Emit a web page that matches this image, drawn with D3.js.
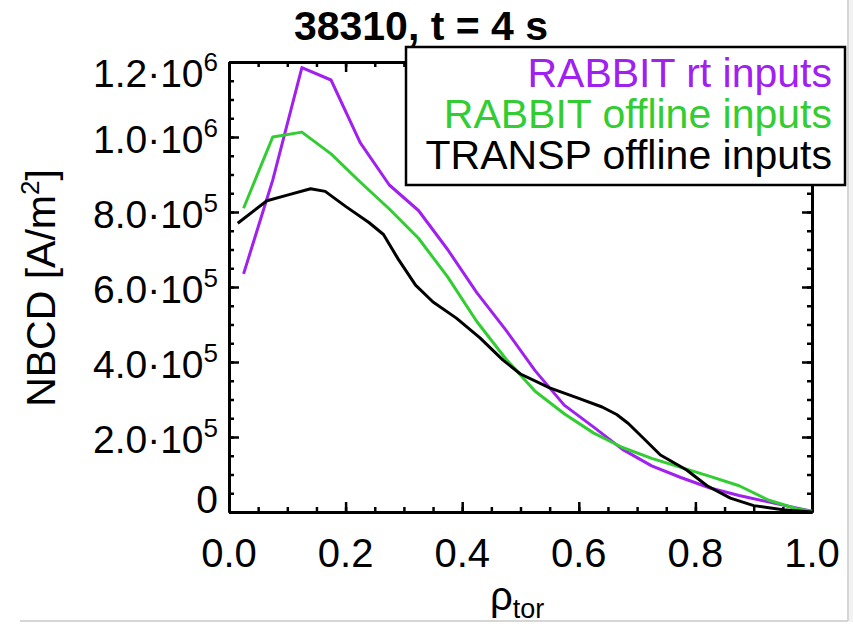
<!DOCTYPE html>
<html>
<head>
<meta charset="utf-8">
<script src="https://cdn.jsdelivr.net/npm/d3@7"></script>
<style>
  body { margin: 0; background: #fff; }
  svg text { font-family: "Liberation Sans", Arial, Helvetica, sans-serif; }
</style>
</head>
<body>
<div id="container"></div>
<script>
// data (rho_tor grid + NBCD in A/m^2)
const rhoRabbit = [0.025, 0.075, 0.125, 0.175, 0.225, 0.275, 0.325, 0.375, 0.425, 0.475, 0.525,
  0.575, 0.625, 0.675, 0.725, 0.775, 0.825, 0.875, 0.925, 0.975, 1.0];
const rabbitRt = [6.35e5, 8.85e5, 1.185e6, 1.152e6, 9.85e5, 8.72e5, 8.04e5, 7.0e5, 5.85e5, 4.85e5, 3.77e5,
  2.85e5, 2.27e5, 1.67e5, 1.23e5, 9.2e4, 6.4e4, 4.4e4, 2.7e4, 1.0e4, 2e3];
const rabbitOffline = [8.1e5, 1.0e6, 1.013e6, 9.55e5, 8.8e5, 8.08e5, 7.3e5, 6.27e5, 5.08e5, 4.08e5, 3.22e5,
  2.62e5, 2.11e5, 1.72e5, 1.43e5, 1.19e5, 9.5e4, 7.0e4, 3.2e4, 8e3, 2e3];
const rhoTransp = [0.015, 0.065, 0.1, 0.14, 0.165, 0.2, 0.24, 0.265, 0.29, 0.32, 0.35, 0.39, 0.43, 0.47,
  0.5, 0.55, 0.6, 0.64, 0.665, 0.685, 0.71, 0.74, 0.785, 0.82, 0.86, 0.9, 0.95, 1.0];
const transpOffline = [7.7e5, 8.3e5, 8.45e5, 8.62e5, 8.55e5, 8.15e5, 7.72e5, 7.4e5, 6.75e5, 6.05e5, 5.6e5,
  5.17e5, 4.65e5, 4.05e5, 3.68e5, 3.31e5, 3.03e5, 2.8e5, 2.6e5, 2.36e5, 1.98e5, 1.52e5, 1.12e5, 7.0e4, 3.7e4,
  1.7e4, 6e3, 0];

const seriesNames = ["RABBIT rt inputs", "RABBIT offline inputs", "TRANSP offline inputs"];
const seriesColors = ["#a020f0", "#32cd32", "#000000"];

const xTicks = [0, 0.2, 0.4, 0.6, 0.8, 1.0];
const xTickLabels = ["0.0", "0.2", "0.4", "0.6", "0.8", "1.0"];
const yTicks = [0, 2e5, 4e5, 6e5, 8e5, 1e6, 1.2e6];
const yTickMant = ["0", "2.0·10", "4.0·10", "6.0·10", "8.0·10", "1.0·10", "1.2·10"];
const yTickExp = ["", "5", "5", "5", "5", "6", "6"];

const titleText = "38310, t = 4 s";

let w = 853;
let h = 624;
let plotLeft = 229, plotRight = 812, plotTop = 62, plotBottom = 512;

let svg = d3.select("#container").append("svg")
    .attr("width", w)
    .attr("height", h);

// screenshot frame
svg.append("rect").attr("x", 849).attr("y", 0).attr("width", 4).attr("height", 622).attr("fill", "#f2f2f2");
svg.append("line").attr("x1", 848).attr("x2", 848).attr("y1", 0).attr("y2", 621)
    .attr("stroke", "#c8c8c8").attr("stroke-width", 1.5);
svg.append("line").attr("x1", 20).attr("x2", 848).attr("y1", 621).attr("y2", 621)
    .attr("stroke", "#c8c8c8").attr("stroke-width", 1.5);

let x = d3.scaleLinear().domain([0, 1]).range([plotLeft, plotRight]);
let y = d3.scaleLinear().domain([0, 1.2e6]).range([plotBottom, plotTop]);

// minor tick positions
let xMinor = d3.range(0, 21).map(i => i * 0.05);
let yMinor = d3.range(0, 25).map(i => i * 5e4);

function drawAxis(axisFn, scale, pos, ticks, size) {
    let g = svg.append("g").attr("transform", pos)
        .call(axisFn(scale).tickValues(ticks).tickSize(size).tickSizeOuter(0).tickFormat(""));
    g.selectAll("line").attr("stroke", "#000").attr("stroke-width", 2.5);
    g.select(".domain").attr("stroke", "#000").attr("stroke-width", 3);
    return g;
}

// ticks point inward on all four sides
drawAxis(d3.axisBottom, x, `translate(0,${plotBottom})`, xMinor, -5);
drawAxis(d3.axisBottom, x, `translate(0,${plotBottom})`, xTicks, -10);
drawAxis(d3.axisTop, x, `translate(0,${plotTop})`, xMinor, -5);
drawAxis(d3.axisTop, x, `translate(0,${plotTop})`, xTicks, -10);
drawAxis(d3.axisLeft, y, `translate(${plotLeft},0)`, yMinor, -5);
drawAxis(d3.axisLeft, y, `translate(${plotLeft},0)`, yTicks, -10);
drawAxis(d3.axisRight, y, `translate(${plotRight},0)`, yMinor, -5);
drawAxis(d3.axisRight, y, `translate(${plotRight},0)`, yTicks, -10);

// x tick labels
svg.append("g").selectAll("text").data(xTicks).join("text")
    .attr("x", d => x(d))
    .attr("y", 567)
    .attr("text-anchor", "middle")
    .attr("font-size", 40)
    .text((d, i) => xTickLabels[i]);

// y tick labels (mantissa·10^exp), clamped inside the axis range like IDL does
let yLab = svg.append("g").selectAll("text").data(yTicks).join("text")
    .attr("x", 218)
    .attr("y", d => Math.min(Math.max(y(d) + 16, plotTop + 25), plotBottom + 1))
    .attr("text-anchor", "end")
    .attr("font-size", 39);
yLab.append("tspan").text((d, i) => yTickMant[i]);
yLab.append("tspan").attr("dy", -16).attr("font-size", 26).text((d, i) => yTickExp[i]);

// lines
let line = d3.line().x(d => x(d[0])).y(d => y(d[1]));
let seriesData = [
    d3.zip(rhoRabbit, rabbitRt),
    d3.zip(rhoRabbit, rabbitOffline),
    d3.zip(rhoTransp, transpOffline)
];
svg.append("g").selectAll("path").data(seriesData).join("path")
    .attr("d", line)
    .attr("fill", "none")
    .attr("stroke", (d, i) => seriesColors[i])
    .attr("stroke-width", 3)
    .attr("stroke-linejoin", "round");

// title
svg.append("text")
    .attr("x", 421)
    .attr("y", 40)
    .attr("text-anchor", "middle")
    .attr("font-size", 41)
    .attr("font-weight", "bold")
    .text(titleText);

// y axis title
let yTitle = svg.append("text")
    .attr("transform", "translate(55,288) rotate(-90)")
    .attr("text-anchor", "middle")
    .attr("font-size", 41);
yTitle.append("tspan").text("NBCD [A/m");
yTitle.append("tspan").attr("dy", -16).attr("font-size", 26).text("2");
yTitle.append("tspan").attr("dy", 16).text("]");

// x axis title
let xTitle = svg.append("text")
    .attr("x", 490)
    .attr("y", 610)
    .attr("font-size", 40);
xTitle.append("tspan").text("ρ");
xTitle.append("tspan").attr("dy", 8).attr("font-size", 27).text("tor");

// legend
svg.append("rect")
    .attr("x", 406).attr("y", 47)
    .attr("width", 439).attr("height", 138)
    .attr("fill", "#fff")
    .attr("stroke", "#000")
    .attr("stroke-width", 2.5);
svg.append("g").selectAll("text").data(seriesNames).join("text")
    .attr("x", 832)
    .attr("y", (d, i) => 87 + i * 41)
    .attr("text-anchor", "end")
    .attr("font-size", 41)
    .attr("fill", (d, i) => seriesColors[i])
    .text(d => d);
</script>
</body>
</html>
